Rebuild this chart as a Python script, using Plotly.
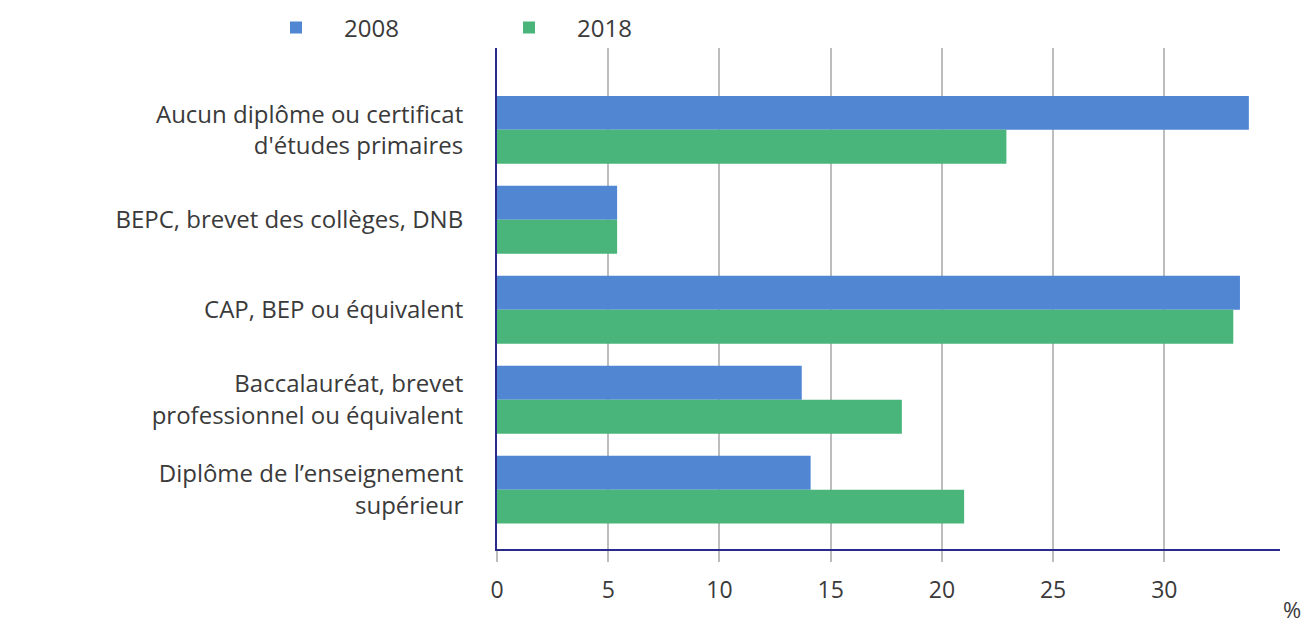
import plotly.graph_objects as go

categories = [
    "Aucun diplôme ou certificat<br>d'études primaires",
    "BEPC, brevet des collèges, DNB",
    "CAP, BEP ou équivalent",
    "Baccalauréat, brevet<br>professionnel ou équivalent",
    "Diplôme de l’enseignement<br>supérieur",
]
values_2008 = [33.8, 5.4, 33.4, 13.7, 14.1]
values_2018 = [22.9, 5.4, 33.1, 18.2, 21.0]
tick_vals = [0, 5, 10, 15, 20, 25, 30]

BLUE = "#5186d3"
GREEN = "#49b57a"
NAVY = "#2a2a8c"
TXT = "#3a3a3a"
FONT = "Open Sans"

fig = go.Figure()
fig.add_trace(go.Bar(y=categories, x=values_2008, name="2008", orientation="h",
                     marker=dict(color=BLUE, line=dict(width=0))))
fig.add_trace(go.Bar(y=categories, x=values_2018, name="2018", orientation="h",
                     marker=dict(color=GREEN, line=dict(width=0))))

fig.update_layout(
    width=1311, height=631,
    margin=dict(l=497, r=31, t=48, b=82, autoexpand=False),
    paper_bgcolor="white", plot_bgcolor="white",
    barmode="group", bargap=0.245, bargroupgap=0,
    font=dict(family=FONT, size=24, color=TXT),
    showlegend=True,
    legend=dict(orientation="h", x=-0.318, xanchor="left", y=1.04, yanchor="middle",
                font=dict(size=24, color=TXT), itemwidth=86,
                entrywidth=132, entrywidthmode="pixels",
                bgcolor="rgba(0,0,0,0)"),
    xaxis=dict(range=[0, 35.2], tickvals=tick_vals, showgrid=True,
               gridcolor="#bdbdbd", gridwidth=2, zeroline=False,
               showline=True, linecolor=NAVY, linewidth=2,
               ticks="outside", ticklen=11, tickcolor="#bdbdbd", tickwidth=2,
               ticklabelstandoff=8,
               tickfont=dict(size=23, color=TXT), layer="above traces"),
    yaxis=dict(type="category", categoryorder="array", categoryarray=categories,
               range=[4.66, -0.91], showgrid=False, zeroline=False,
               showline=True, linecolor=NAVY, linewidth=2,
               ticks="", ticklabelstandoff=27,
               tickfont=dict(size=24, color=TXT)),
    annotations=[dict(text="%", xref="paper", yref="paper", x=1.015, y=-0.12,
                      xanchor="center", yanchor="middle", showarrow=False,
                      font=dict(size=22, color=TXT))],
)

fig.write_html("out.html", config={"displayModeBar": False},
               post_script="document.body.style.margin='0px';document.body.style.overflow='hidden';")
